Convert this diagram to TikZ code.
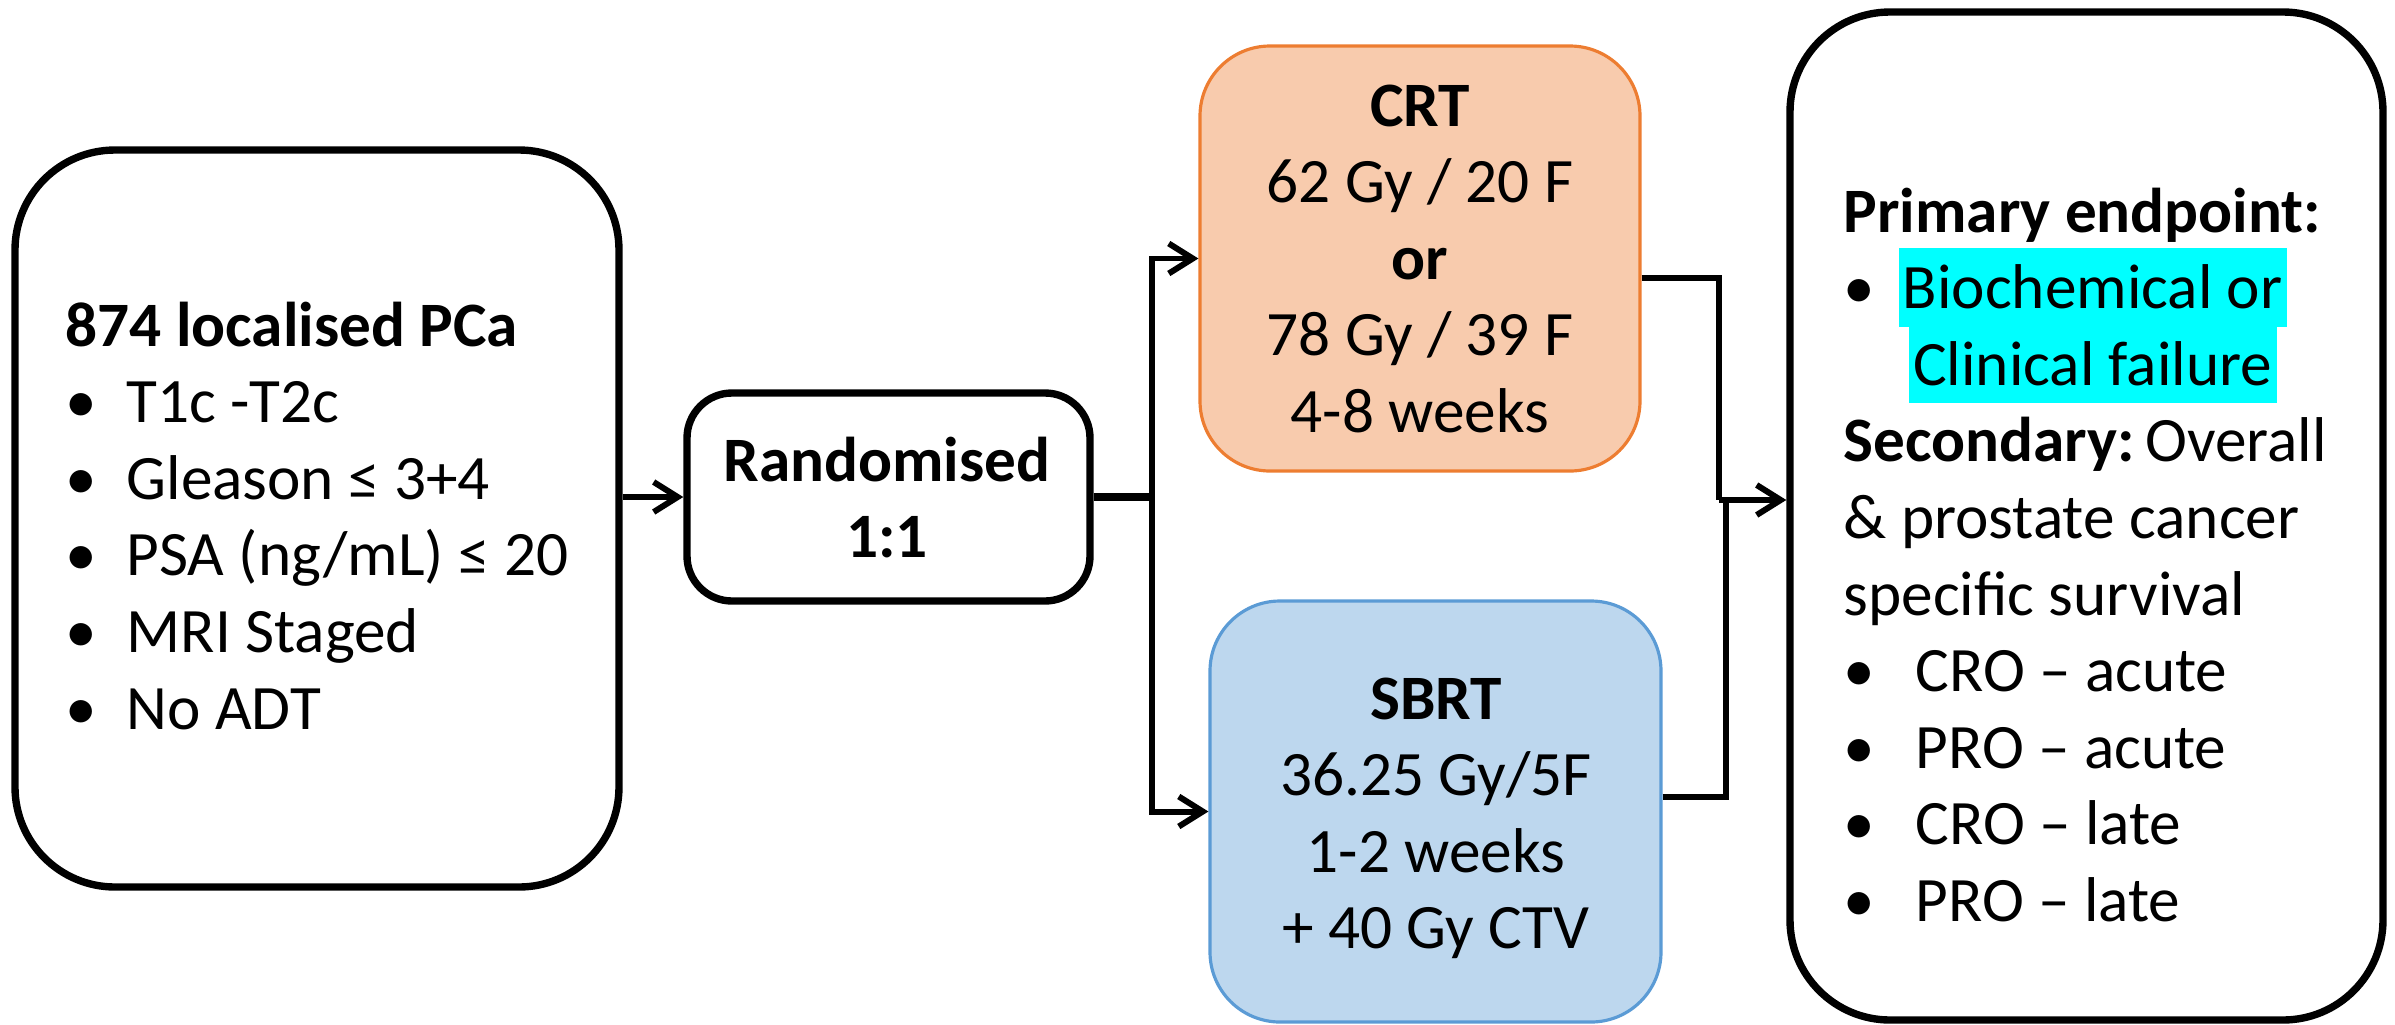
\documentclass[tikz,border=0pt]{standalone}
\usepackage{fontspec}
\setmainfont{Carlito}
\usetikzlibrary{arrows.meta,calc}
\definecolor{crtfill}{HTML}{F8CBAD}
\definecolor{crtdraw}{HTML}{ED7D31}
\definecolor{sbrtfill}{HTML}{BDD7EE}
\definecolor{sbrtdraw}{HTML}{5B9BD5}
\definecolor{hlcyan}{HTML}{00FFFF}
\newcommand\Lblock[1]{\vtop{\baselineskip=21.8pt\lineskiplimit=-30pt\lineskip=0pt\halign{##\hfil\cr#1\crcr}}}
\newcommand\Cblock[1]{\vtop{\baselineskip=21.8pt\lineskiplimit=-30pt\lineskip=0pt\halign{\hfil##\hfil\cr#1\crcr}}}
\newcommand\bul{\makebox[0.61cm][l]{•}}
\newcommand\rbul{\makebox[0.72cm][l]{•}}
\newcommand\hlt[1]{{\setlength{\fboxsep}{0pt}\colorbox{hlcyan}{\rule[-5.1pt]{0pt}{22.4pt}\kern1.2pt #1\kern1.2pt}}}
\tikzset{
  bigbox/.style={draw=black, line width=2.1pt, rectangle, inner sep=0pt},
  crtbox/.style={draw=crtdraw, fill=crtfill, line width=0.9pt, rectangle, inner sep=0pt, rounded corners=0.7cm},
  sbrtbox/.style={draw=sbrtdraw, fill=sbrtfill, line width=0.9pt, rectangle, inner sep=0pt, rounded corners=0.7cm},
  txt/.style={inner sep=0pt, font=\fontsize{18}{21.8}\selectfont},
  conn/.style={line width=1.7pt},
  arr/.style={conn, -{Straight Barb[length=2.4mm,width=3.0mm]}},
}
\begin{document}
\begin{tikzpicture}
\useasboundingbox (0,0) rectangle (23.95,-10.24);
% boxes
\node[bigbox, rounded corners=1.0cm, minimum width=6.04cm, minimum height=7.37cm] (left) at (3.17,-5.185) {};
\node[bigbox, rounded corners=0.45cm, minimum width=4.03cm, minimum height=2.08cm] (rand) at (8.885,-4.97) {};
\node[crtbox, minimum width=4.40cm, minimum height=4.25cm] (crt) at (14.20,-2.585) {};
\node[sbrtbox, minimum width=4.51cm, minimum height=4.21cm] (sbrt) at (14.355,-8.115) {};
\node[bigbox, rounded corners=1.0cm, minimum width=5.93cm, minimum height=10.08cm] (right) at (20.865,-5.16) {};
% texts
\node[txt, anchor=base west] (lefttxt) at (0.65,-3.46) {\Lblock{\textbf{874 localised PCa}\cr
\bul T1c -T2c\cr
\bul Gleason ≤ 3+4\cr
\bul PSA (ng/mL) ≤ 20\cr
\bul MRI Staged\cr
\bul No ADT}};
\node[txt, anchor=base] (randtxt) at (8.87,-4.81) {\Cblock{\textbf{Randomised}\cr\textbf{1:1}}};
\node[txt, anchor=base] (crttxt) at (14.20,-1.26) {\Cblock{\textbf{CRT}\cr
62 Gy / 20 F\cr
\textbf{or}\cr
78 Gy / 39 F\cr
4-8 weeks}};
\node[txt, anchor=base] (sbrttxt) at (14.36,-7.19) {\Cblock{\textbf{SBRT}\cr
36.25 Gy/5F\cr
1-2 weeks\cr
+ 40 Gy CTV}};
\node[txt, anchor=base west] (righttxt) at (18.43,-2.32) {\Lblock{\textbf{Primary endpoint:}\cr
\rbul\makebox[3.54cm][c]{\hlt{Biochemical or}}\cr
\hspace*{0.72cm}\makebox[3.54cm][c]{\hlt{Clinical failure}}\cr
\textbf{Secondary:}\,Overall\cr
\& prostate cancer\cr
specific survival\cr
\rbul CRO – acute\cr
\rbul PRO – acute\cr
\rbul CRO – late\cr
\rbul PRO – late}};
% connectors
\draw[arr] (left.east |- rand.west) -- (rand.west);
\draw[line width=2.4pt] (rand.east) -- ++(0.60,0) coordinate (j);
\coordinate (jj) at ($(j)+(-0.02,0)$);
\draw[arr] (jj) |- (crt.west);
\draw[arr] (jj) |- (sbrt.west);
\coordinate (m1) at (17.19,-5.00);
\coordinate (m2) at (17.26,-5.00);
\draw[conn] ([yshift=-0.195cm]crt.east) -| (m1);
\draw[conn] ([yshift=0.145cm]sbrt.east) -| (m2);
\draw[arr] (m1) -- (right.west |- m1);
\end{tikzpicture}
\end{document}
